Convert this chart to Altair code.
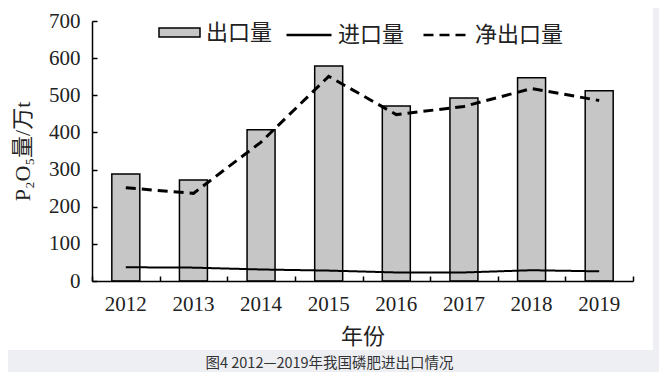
import altair as alt
import pandas as pd

# ---- data ----
years = ["2012", "2013", "2014", "2015", "2016", "2017", "2018", "2019"]
export_vals = [288, 272, 407, 579, 471, 493, 547, 512]
import_vals = [37, 36, 31, 28, 23, 23, 29, 26]
net_vals = [251, 236, 374, 551, 448, 470, 518, 486]

s_export = "出口量"
s_import = "进口量"
s_net = "净出口量"
y_ticks = [0, 100, 200, 300, 400, 500, 600, 700]

bars_df = pd.DataFrame({"year": years, "value": export_vals, "series": s_export})
lines_df = pd.DataFrame({
    "year": years * 2,
    "value": import_vals + net_vals,
    "series": [s_import] * len(years) + [s_net] * len(years),
})

W, H = 541, 260
SERIF = "Liberation Serif"
CJK = "Noto Sans CJK SC"
MIX = "Liberation Serif, Noto Sans CJK SC"
TXT = "#222222"

x_scale = alt.Scale(paddingInner=0, paddingOuter=0)
y_scale = alt.Scale(domain=[0, 700], nice=False)

panel = alt.Chart(pd.DataFrame({"k": [0]})).mark_rect(fill="white").encode(
    x=alt.value(-88), x2=alt.value(561), y=alt.value(-17), y2=alt.value(329)
)

bars = alt.Chart(bars_df).mark_bar(
    stroke="black", strokeWidth=1.5, width=alt.RelativeBandSize(0.414), opacity=1
).encode(
    x=alt.X("year:N", sort=years, scale=x_scale,
            axis=alt.Axis(orient="bottom", title="年份", ticks=False, labelAngle=0,
                          labelFont=SERIF, labelFontSize=21, labelColor=TXT, labelPadding=12,
                          titleFont=CJK, titleFontSize=22, titleFontWeight="normal",
                          titleColor=TXT, titlePadding=12, domainColor="black", domainWidth=1.5,
                          grid=False, zindex=2)),
    y=alt.Y("value:Q", scale=y_scale,
            axis=alt.Axis(orient="left", title="P₂O₅量/万t", ticks=False, values=y_ticks,
                          labelFont=SERIF, labelFontSize=21, labelColor=TXT, labelPadding=12,
                          titleFont=MIX, titleFontSize=22, titleFontWeight="normal",
                          titleColor=TXT, titlePadding=14, domainColor="black", domainWidth=1.5,
                          grid=False, zindex=2)),
    fill=alt.Fill("series:N", scale=alt.Scale(domain=[s_export], range=["#c6c6c6"]),
                  legend=alt.Legend(orient="none", legendX=66, legendY=-10, direction="horizontal",
                                    title=None, symbolType="M-1,-0.22L1,-0.22L1,0.22L-1,0.22Z",
                                    symbolSize=1681, symbolStrokeColor="black",
                                    symbolStrokeWidth=1.5, labelFont=CJK, labelFontSize=22,
                                    labelColor=TXT, labelOffset=5, padding=0)),
)

dash_scale = alt.Scale(domain=[s_import, s_net], range=[[1, 0], [10, 6]])

line_import = alt.Chart(lines_df).transform_filter(
    alt.datum.series == s_import
).mark_line(color="black", strokeWidth=2).encode(
    x=alt.X("year:N", sort=years, scale=x_scale,
            axis=alt.Axis(orient="top", offset=-H, labels=False, domain=False, ticks=True,
                          tickSize=5, tickColor="black", tickWidth=1.5, tickBand="extent",
                          title=None, grid=False, zindex=2)),
    y=alt.Y("value:Q", scale=y_scale,
            axis=alt.Axis(orient="right", offset=-W, labels=False, domain=False, ticks=True,
                          tickSize=5, tickColor="black", tickWidth=1.5, values=y_ticks,
                          title=None, grid=False, zindex=2)),
    strokeDash=alt.StrokeDash("series:N", scale=dash_scale,
                              legend=alt.Legend(orient="none", legendX=193, legendY=-10,
                                                direction="horizontal", title=None,
                                                symbolType="stroke", symbolSize=2025,
                                                symbolStrokeColor="black", symbolStrokeWidth=2.5,
                                                labelFont=CJK, labelFontSize=22, labelColor=TXT,
                                                labelOffset=5, columnPadding=13, padding=0)),
)

line_net = alt.Chart(lines_df).transform_filter(
    alt.datum.series == s_net
).mark_line(color="black", strokeWidth=3).encode(
    x=alt.X("year:N", sort=years, scale=x_scale, axis=None),
    y=alt.Y("value:Q", scale=y_scale, axis=None),
    strokeDash=alt.StrokeDash("series:N", scale=dash_scale),
)

chart = alt.layer(panel, bars, line_import, line_net).resolve_axis(
    x="independent", y="independent"
).properties(
    width=W, height=H,
    autosize=alt.AutoSizeParams(type="none"),
    padding={"left": 84, "top": 13, "right": 26, "bottom": 91},
    title=alt.TitleParams("图4 2012—2019年我国磷肥进出口情况", orient="bottom", anchor="middle",
                          font=CJK, fontSize=14.5, fontWeight="normal", color="#333333",
                          offset=7, dx=-33),
).configure(background="#edeff3").configure_view(stroke=None)

chart.save("out.html", embed_options={"renderer": "svg", "actions": False})
